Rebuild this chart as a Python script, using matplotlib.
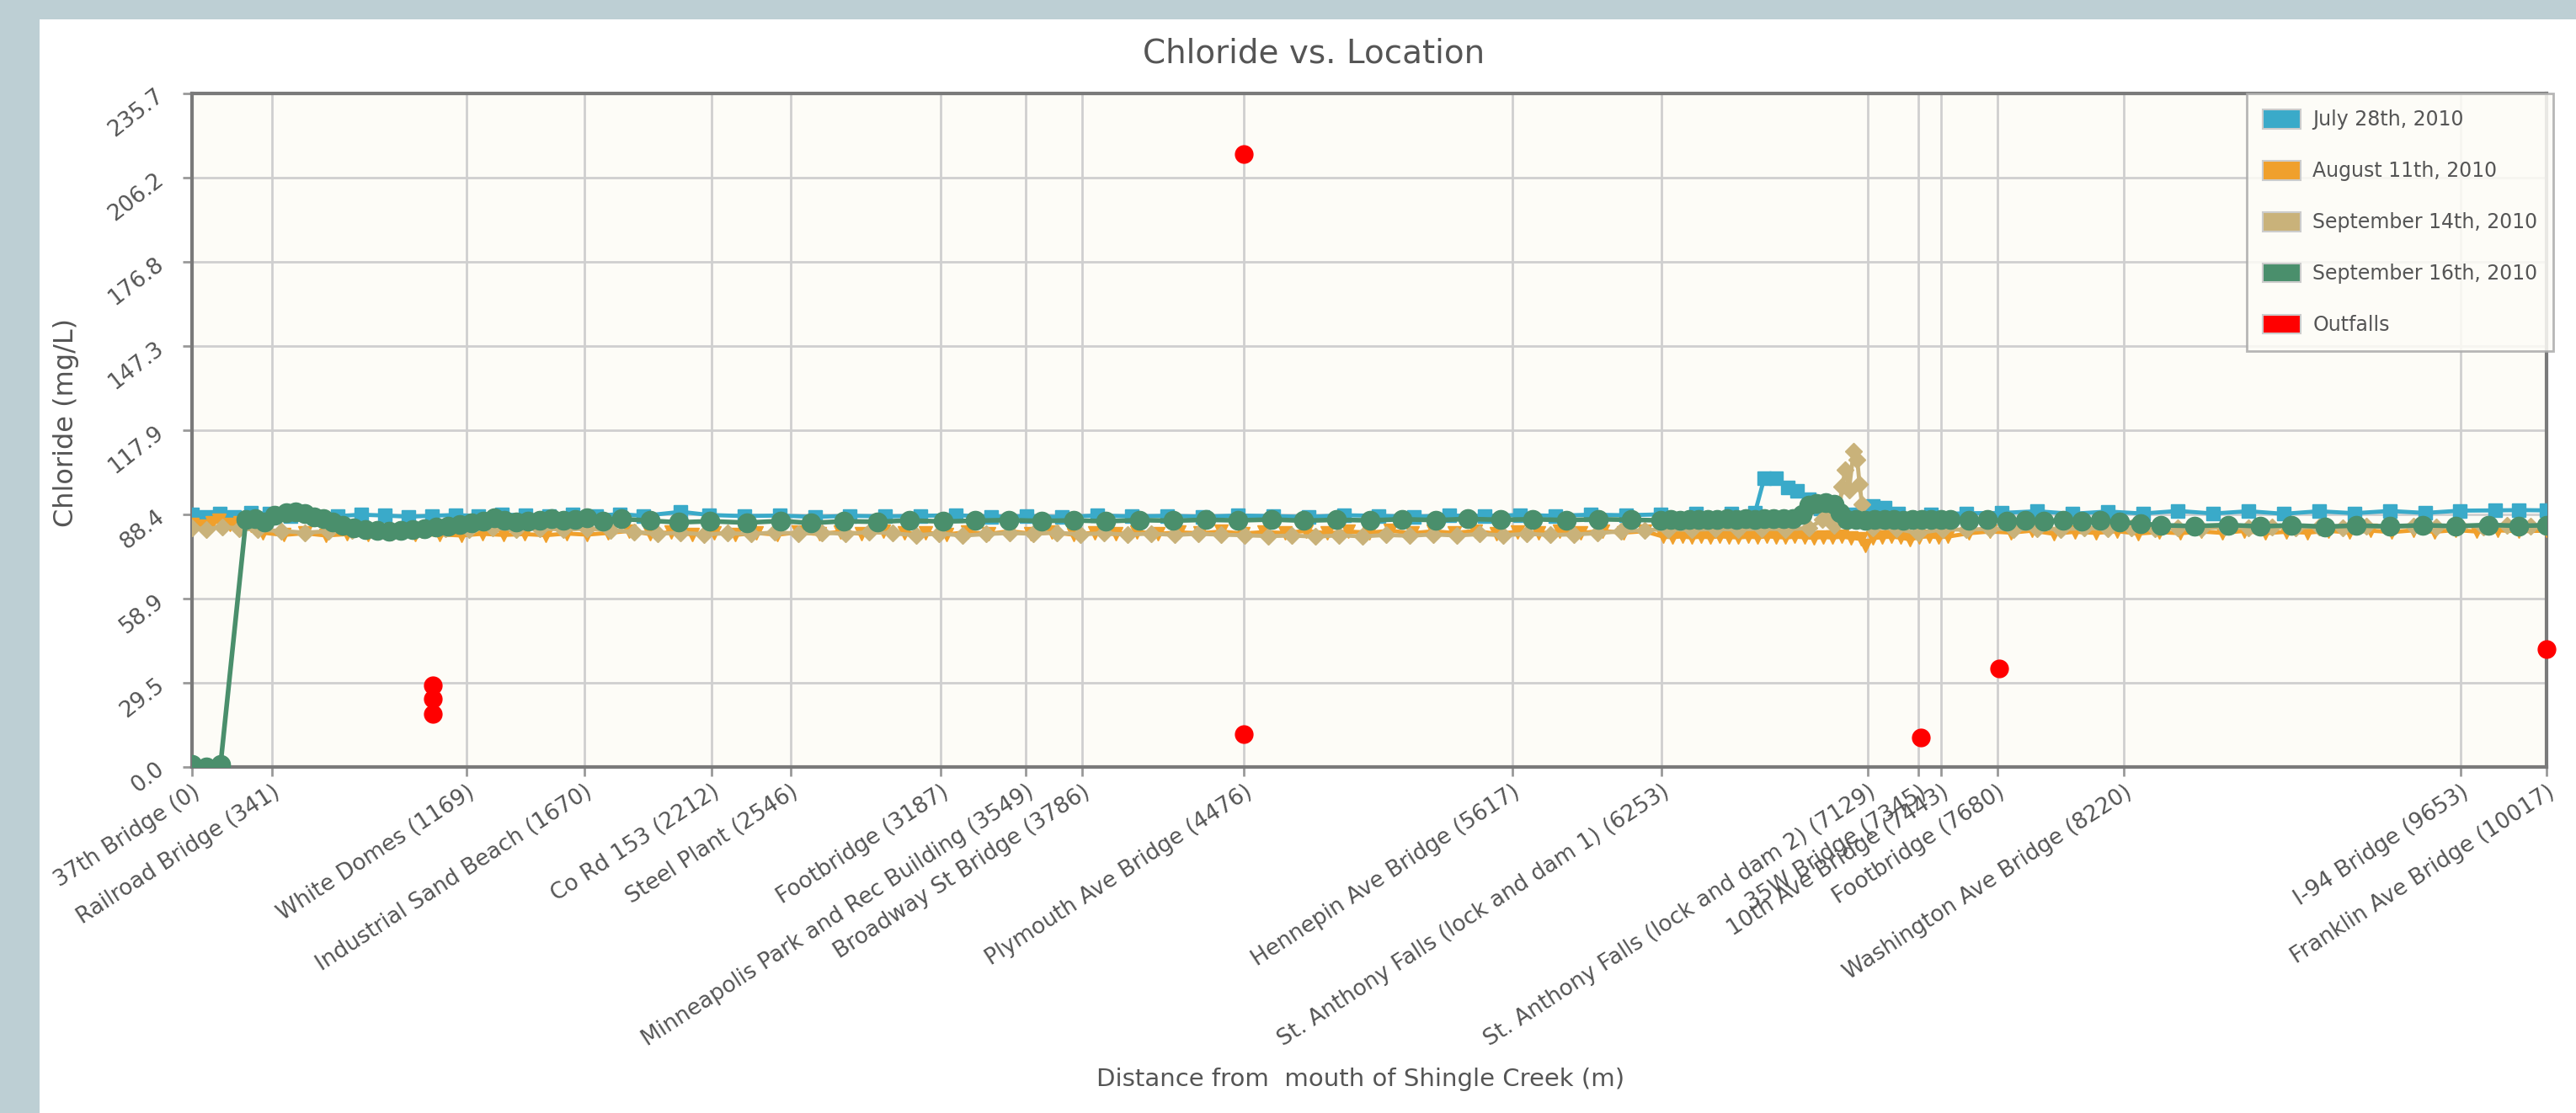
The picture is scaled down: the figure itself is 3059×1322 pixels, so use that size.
import matplotlib
matplotlib.use('Agg')
import matplotlib.pyplot as plt
from matplotlib.patches import Patch, Rectangle

# ---- data (distance from mouth of Shingle Creek in m, chloride mg/L) ----
tick_pos = [0, 341, 1169, 1670, 2212, 2546, 3187, 3549, 3786, 4476, 5617,
            6253, 7129, 7345, 7443, 7680, 8220, 9653, 10017]
tick_names = ['37th Bridge (0)', 'Railroad Bridge (341)', 'White Domes (1169)',
              'Industrial Sand Beach (1670)', 'Co Rd 153 (2212)', 'Steel Plant (2546)',
              'Footbridge (3187)', 'Minneapolis Park and Rec Building (3549)',
              'Broadway St Bridge (3786)', 'Plymouth Ave Bridge (4476)',
              'Hennepin Ave Bridge (5617)', 'St. Anthony Falls (lock and dam 1) (6253)',
              'St. Anthony Falls (lock and dam 2) (7129)', '35W Bridge (7345)',
              '10th Ave Bridge (7443)', 'Footbridge (7680)', 'Washington Ave Bridge (8220)',
              'I-94 Bridge (9653)', 'Franklin Ave Bridge (10017)']
y_ticks = [0.0, 29.5, 58.9, 88.4, 117.9, 147.3, 176.8, 206.2, 235.7]

jul_x = [0, 60, 120, 180, 250, 330, 420, 520, 620, 720, 820, 920, 1020, 1120, 1220,
         1320, 1420, 1520, 1620, 1720, 1820, 1920, 2080, 2200, 2350, 2500, 2650, 2800,
         2950, 3100, 3250, 3400, 3550, 3700, 3850, 4000, 4150, 4300, 4450, 4600, 4750,
         4900, 5050, 5200, 5350, 5500, 5650, 5800, 5950, 6100, 6250, 6400, 6550, 6650,
         6690, 6740, 6790, 6830, 6880, 6930, 6980, 7050, 7110, 7150, 7200, 7260, 7400,
         7550, 7700, 7850, 8000, 8150, 8300, 8450, 8600, 8750, 8900, 9050, 9200, 9350,
         9500, 9650, 9800, 9900, 10017]
jul_y = [88.5, 87.5, 88.8, 87.6, 88.9, 88.6, 87.9, 87.4, 87.8, 88.3, 88.0, 87.6, 87.9, 88.2, 87.8,
         88.4, 88.0, 87.7, 88.3, 87.9, 88.5, 87.9, 89.3, 88.2, 87.8, 88.0, 87.5, 87.9,
         87.7, 87.9, 88.1, 87.6, 87.8, 87.5, 88.0, 87.7, 87.9, 87.6, 88.0, 87.8, 87.5,
         88.1, 87.9, 87.6, 88.0, 87.8, 88.2, 87.9, 88.3, 88.1, 88.4, 88.6, 88.8, 89.0,
         101.2, 101.0, 97.8, 96.5, 93.6, 90.5, 88.9, 88.5, 88.7, 91.4, 90.8, 88.6, 88.4,
         88.8, 88.9, 89.5, 88.6, 89.4, 88.7, 89.6, 88.7, 89.5, 88.6, 89.5, 88.8, 89.6,
         88.9, 89.7, 89.8, 89.9, 89.8]

aug_x = [0, 45, 85, 115, 160, 205, 250, 300, 390, 480, 570, 660, 750, 850, 950, 1053,
         1146, 1236, 1326, 1415, 1505, 1594, 1680, 1770, 1860, 1950, 2040, 2130, 2220,
         2310, 2400, 2490, 2580, 2670, 2760, 2850, 2940, 3030, 3120, 3210, 3300, 3390,
         3480, 3570, 3660, 3750, 3840, 3930, 4020, 4110, 4200, 4290, 4380, 4470, 4560,
         4650, 4740, 4830, 4920, 5010, 5100, 5190, 5280, 5370, 5460, 5550, 5640, 5730,
         5820, 5910, 6000, 6090, 6180, 6260, 6300, 6340, 6380, 6420, 6460, 6500, 6540,
         6580, 6620, 6660, 6700, 6740, 6780, 6820, 6860, 6900, 6940, 6980, 7020, 7060,
         7100, 7120, 7150, 7190, 7230, 7270, 7310, 7350, 7390, 7430, 7470, 7560, 7650,
         7740, 7830, 7920, 8010, 8100, 8190, 8280, 8370, 8460, 8550, 8640, 8730, 8820,
         8910, 9000, 9090, 9180, 9270, 9360, 9450, 9540, 9630, 9720, 9810, 9900, 10017]
aug_y = [85.0, 84.2, 85.3, 86.3, 84.8, 85.5, 84.6, 82.0, 81.2, 81.8, 81.0, 81.5, 81.3, 81.6, 81.2, 81.4,
         81.0, 81.6, 81.2, 81.5, 81.1, 81.7, 81.3, 81.9, 82.6, 81.5, 82.2, 81.4, 82.0,
         81.2, 81.9, 81.3, 82.1, 81.5, 82.3, 81.6, 82.4, 81.8, 82.0, 81.4, 82.2, 81.6,
         82.5, 81.7, 82.1, 81.3, 82.0, 81.5, 82.3, 81.6, 82.1, 81.8, 82.4, 81.7, 82.2,
         81.9, 82.6, 81.8, 82.4, 82.0, 82.7, 81.8, 82.5, 81.9, 82.6, 81.6, 82.3, 81.8,
         82.4, 81.9, 82.6, 82.0, 82.5, 80.6, 80.4, 80.7, 80.3, 80.6, 80.4, 80.7, 80.5,
         80.3, 80.6, 80.4, 80.7, 80.5, 80.3, 80.6, 80.4, 80.2, 80.5, 80.3, 80.6, 80.2,
         79.8, 77.6, 80.1, 80.4, 80.6, 80.3, 79.6, 80.5, 80.7, 80.4, 80.6, 81.8, 82.4,
         82.0, 82.7, 81.6, 82.3, 81.9, 82.5, 81.7, 82.2, 81.8, 82.4, 81.9, 82.6, 81.8,
         82.3, 82.0, 82.6, 82.1, 82.7, 82.2, 82.8, 82.3, 82.9, 82.4, 82.8, 82.5, 82.7]

sep14_x = [0, 60, 130, 200, 280, 380, 480, 580, 680, 780, 880, 980, 1080, 1180, 1280,
           1380, 1480, 1580, 1680, 1780, 1880, 1980, 2080, 2180, 2280, 2380, 2480, 2580,
           2680, 2780, 2880, 2980, 3080, 3180, 3280, 3380, 3480, 3580, 3680, 3780, 3880,
           3980, 4080, 4180, 4280, 4380, 4480, 4580, 4680, 4780, 4880, 4980, 5080, 5180,
           5280, 5380, 5480, 5580, 5680, 5780, 5880, 5980, 6080, 6180, 6280, 6380, 6480,
           6580, 6680, 6780, 6880, 6935, 6960, 6985, 7005, 7020, 7035, 7050, 7070, 7085,
           7095, 7105, 7120, 7150, 7250, 7345, 7450, 7550, 7650, 7750, 7850, 7950, 8050,
           8150, 8250, 8350, 8450, 8550, 8650, 8750, 8850, 8950, 9050, 9150, 9250, 9350,
           9450, 9550, 9650, 9750, 9850, 9950, 10017]
sep14_y = [83.8, 83.2, 84.0, 83.5, 83.0, 82.6, 82.0, 82.5, 82.8, 83.0, 83.2, 83.1, 83.4, 83.0, 83.6,
           83.2, 83.5, 83.1, 83.4, 82.9, 82.3, 81.6, 82.0, 81.4, 81.8, 81.5, 82.1, 81.7,
           82.0, 81.6, 82.2, 81.8, 81.1, 81.7, 81.0, 81.5, 81.9, 81.6, 82.0, 81.4, 81.8,
           81.3, 81.7, 81.2, 81.6, 81.3, 81.1, 80.8, 81.0, 80.6, 81.1, 80.7, 81.2, 80.9,
           81.4, 81.0, 81.5, 81.1, 81.6, 81.2, 81.4, 81.8, 82.5, 82.9, 83.2, 83.0, 83.3,
           83.1, 83.4, 83.2, 83.6, 86.5, 87.8, 84.5, 87.0, 98.0, 104.0, 97.0, 110.5, 107.5,
           99.0, 92.0, 86.5, 83.8, 83.4, 81.8, 83.2, 83.0, 83.4, 83.1, 83.5, 83.2, 83.6,
           83.3, 83.7, 83.4, 83.8, 83.5, 83.9, 83.6, 84.0, 83.7, 84.1, 83.8, 84.2, 83.9,
           84.3, 84.0, 84.4, 84.1, 84.5, 84.2, 84.4]

sep16_x = [0, 60, 122, 230, 270, 310, 350, 400, 440, 480, 520, 560, 600, 640, 690, 740,
           790, 840, 890, 940, 990, 1040, 1090, 1140, 1190, 1240, 1286, 1330, 1380, 1430,
           1480, 1530, 1580, 1630, 1680, 1750, 1827, 1949, 2070, 2203, 2361, 2504, 2633,
           2773, 2916, 3052, 3196, 3332, 3475, 3615, 3751, 3887, 4030, 4174, 4313, 4450,
           4593, 4729, 4869, 5012, 5148, 5291, 5428, 5567, 5703, 5846, 5983, 6123, 6250,
           6290, 6330, 6370, 6410, 6450, 6490, 6530, 6570, 6610, 6650, 6690, 6730, 6770,
           6810, 6850, 6880, 6910, 6950, 6985, 7010, 7040, 7080, 7120, 7160, 7200, 7240,
           7280, 7320, 7360, 7400, 7440, 7480, 7560, 7640, 7720, 7800, 7880, 7960, 8040,
           8120, 8200, 8290, 8376, 8519, 8662, 8799, 8931, 9074, 9207, 9350, 9490, 9630,
           9770, 9900, 10017]
sep16_y = [1.0, 0.0, 1.0, 86.5, 87.0, 85.8, 88.2, 89.0, 89.4, 88.8, 87.6, 86.8, 85.6, 84.6, 83.8, 83.2,
           82.8, 82.6, 82.7, 83.0, 83.4, 83.9, 84.4, 84.9, 85.3, 86.0, 87.2, 86.2, 85.6, 85.9,
           86.3, 86.8, 86.2, 86.6, 87.3, 86.0, 86.8, 86.2, 85.6, 86.0, 85.5, 86.1, 85.4,
           86.0, 85.8, 86.3, 85.9, 86.2, 86.4, 86.1, 86.3, 86.0, 86.4, 86.2, 86.5, 86.3,
           86.6, 86.2, 86.5, 86.3, 86.7, 86.4, 86.8, 86.5, 86.7, 86.4, 86.7, 86.5, 86.3,
           86.5, 86.4, 86.6, 86.5, 86.7, 86.6, 86.8, 86.6, 86.9, 86.7, 86.9, 86.8, 87.0,
           86.9, 88.5, 91.5, 92.3, 92.5, 91.8, 89.0, 86.6, 86.5, 86.4, 86.6, 86.5, 86.7,
           86.4, 86.6, 86.5, 86.7, 86.5, 86.6, 86.2, 86.5, 86.1, 86.4, 86.0, 86.3, 85.9,
           86.2, 85.7, 85.2, 84.6, 84.3, 84.7, 84.2, 84.6, 84.1, 84.5, 84.2, 84.6, 84.3,
           84.7, 84.4, 84.6]

outfall_x = [1025, 1025, 1025, 4476, 4476, 7355, 7690, 10017]
outfall_y = [28.5, 24.0, 18.5, 214.5, 11.5, 10.3, 34.5, 41.3]

series_names = ['July 28th, 2010', 'August 11th, 2010', 'September 14th, 2010',
                'September 16th, 2010', 'Outfalls']
colors = ['#3aaac9', '#f0a02c', '#c9b27a', '#4a8f6c', '#ff0000']

# ---- figure ----
fig = plt.figure(figsize=(30.59, 13.22), dpi=100, facecolor='#bdcfd4')
fig.patches.append(Rectangle((47 / 3059, 0), 1, 1 - 23 / 1322, transform=fig.transFigure,
                             facecolor='white', edgecolor='none', zorder=-10))

ax = fig.add_axes([0.0745, 0.3109, 0.9140, 0.6051])
ax.set_zorder(5)
ax.set_facecolor('#fdfcf7')

ax.plot(jul_x, jul_y, color=colors[0], lw=3.5, marker='s', ms=11, zorder=3)
ax.plot(aug_x, aug_y, color=colors[1], lw=3.5, marker='v', ms=12, zorder=4)
ax.plot(sep14_x, sep14_y, color=colors[2], lw=3.5, marker='D', ms=10, zorder=5)
ax.plot(sep16_x, sep16_y, color=colors[3], lw=4, marker='o', ms=16, zorder=6)
ax.plot(outfall_x, outfall_y, linestyle='none', color=colors[4], marker='o', ms=15,
        zorder=7, clip_on=False)

ax.set_xlim(0, 10017)
ax.set_ylim(0, 235.7)
ax.set_xticks(tick_pos)
ax.set_xticklabels(tick_names, rotation=33, ha='right', rotation_mode='anchor',
                   fontsize=19, color='#555555')
ax.set_yticks(y_ticks)
ax.set_yticklabels(['%.1f' % v for v in y_ticks], rotation=38, ha='right',
                   va='center', rotation_mode='anchor', fontsize=19, color='#555555')
ax.tick_params(axis='both', length=8, width=2, color='#999999')
ax.tick_params(axis='x', pad=4)
ax.tick_params(axis='y', pad=18)
ax.grid(True, color='#cfcfcf', linewidth=2)
ax.set_axisbelow(True)
for s in ax.spines.values():
    s.set_color('#7a7a7a')
    s.set_linewidth(3)

handles = [Patch(facecolor=c, edgecolor='#cccccc', linewidth=1.5) for c in colors]
leg = ax.legend(handles, series_names, loc='upper right', bbox_to_anchor=(1.003, 1.0),
                borderaxespad=0, fontsize=17, labelspacing=1.55, handlelength=1.9,
                handleheight=1.1, handletextpad=0.6, borderpad=0.8,
                fancybox=False, framealpha=0.85, facecolor='#fdfcf7', edgecolor='#aaaaaa')
for t in leg.get_texts():
    t.set_color('#555555')
leg.get_frame().set_linewidth(2)

fig.text(0.51, 0.952, 'Chloride vs. Location', ha='center', va='center',
         fontsize=28, color='#555555')
fig.text(0.528, 0.030, 'Distance from  mouth of Shingle Creek (m)', ha='center',
         va='center', fontsize=21, color='#555555')
fig.text(0.0255, 0.62, 'Chloride (mg/L)', ha='center', va='center', rotation=90,
         fontsize=23, color='#555555')

fig.savefig('out.png', dpi=100, facecolor=fig.get_facecolor())
